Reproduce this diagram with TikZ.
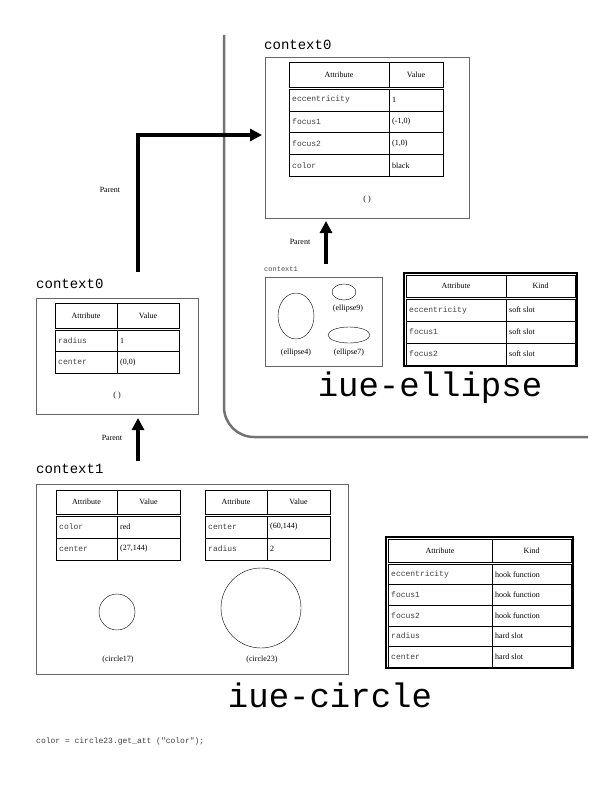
\documentclass[tikz,border=0pt]{standalone}
\usepackage{fontspec}
\setmainfont{Liberation Serif}
\setmonofont{Liberation Mono}
\usetikzlibrary{arrows.meta}
\newcommand\mytable[9]{%
  \draw[thin] (#1,#4) rectangle (#3,#5);
  \draw[thin] (#2,#4) -- (#2,#5);
  \node[tt] at ({(#1+#2)/2},{(#4+#5)/2}) {#7};
  \node[tt] at ({(#2+#3)/2},{(#4+#5)/2}) {#8};
  \draw[thin] (#1,#5+2) -- (#3,#5+2);
  \foreach \a/\b [count=\i] in {#9}{
    \pgfmathsetmacro\ytop{#5+2+(\i-1)*#6}
    \pgfmathsetmacro\ybot{#5+2+\i*#6}
    \draw[thin] (#1,\ytop) rectangle (#3,\ybot);
    \draw[thin] (#2,\ytop) -- (#2,\ybot);
    \node[tm,anchor=west] at (#1+2,{(\ytop+\ybot)/2}) {\a};
    \node[tt,anchor=west] at (#2+2,{(\ytop+\ybot)/2}) {\b};
  }}
\begin{document}
\begin{tikzpicture}[x=1pt,y=-1pt,
  tt/.style={font=\fontsize{8}{9}\selectfont,inner sep=1pt},
  tm/.style={font=\ttfamily\fontsize{8}{9}\selectfont,text=black!75,inner sep=1pt},
  lab/.style={font=\ttfamily\fontsize{14}{15}\selectfont,anchor=west,inner sep=0pt},
  big/.style={font=\ttfamily\fontsize{34}{36}\selectfont,inner sep=0pt},
  box/.style={draw=black!60,thick},
  bigarrow/.style={line width=3.5pt,-{Triangle[length=12pt,width=12pt]}}]
\useasboundingbox (0,0) rectangle (612,792);
% boundary
\draw[black!55,line width=2.5pt,rounded corners=30pt] (224,35) -- (224,437) -- (588,437);
% top context0
\node[lab] (c0t) at (264,45) {context0};
\draw[box] (265,57) rectangle (469,218);
\mytable{289}{389}{443}{62}{87}{21.8}{Attribute}{Value}{eccentricity/1,focus1/(-1{,}0),focus2/(1{,}0),color/black}
\node[tt] (pt) at (367,200) {( )};
\coordinate (tin) at (262,135);
% ellipse context1
\node[font=\ttfamily\fontsize{7}{8}\selectfont,text=black!70,anchor=west,inner sep=0pt] (c1e) at (264,269) {context1};
\draw[box] (265,277) rectangle (382,366);
\draw (296,316) ellipse (18 and 23);
\draw (344,292) ellipse (12 and 8);
\draw (349,335) ellipse (21 and 8);
\node[tt] (e4) at (296,353) {(ellipse4)};
\node[tt] (e9) at (348,309) {(ellipse9)};
\node[tt] (e7) at (349,353) {(ellipse7)};
\draw[line width=2.5pt] (404,273) rectangle (577,366);
\mytable{406}{506}{575}{275}{297}{22}{Attribute}{Kind}{eccentricity/soft slot,focus1/soft slot,focus2/soft slot}
\node[big] (ie) at (430,388) {iue-ellipse};
\coordinate (a2s) at (326,264); \coordinate (a2e) at (326,221);
\draw[bigarrow] (a2s) -- (a2e);
\node[tt] at (300,242) {Parent};
% left context0
\node[lab] (c0l) at (36,284) {context0};
\draw[box] (36,298) rectangle (198,414);
\mytable{55}{117}{179}{303}{328}{21.5}{Attribute}{Value}{radius/1,center/(0{,}0)}
\node[tt] at (117,396) {( )};
\coordinate (a1s) at (138,272);
\draw[bigarrow] (a1s) -- (138,135) -- (tin);
\node[tt] at (110,190) {Parent};
\coordinate (a3s) at (138,461); \coordinate (a3e) at (138,418);
\draw[bigarrow] (a3s) -- (a3e);
\node[tt] at (112,438) {Parent};
% context1 circle
\node[lab] (c1l) at (36,469) {context1};
\draw[box] (36,484) rectangle (348,674);
\mytable{56}{117}{180}{490}{514}{22}{Attribute}{Value}{color/red,center/(27{,}144)}
\mytable{205}{267}{330}{490}{514}{22}{Attribute}{Value}{center/(60{,}144),radius/2}
\draw (117,612) circle (18);
\draw (261,608) circle (40);
\node[tt] at (118,660) {(circle17)};
\node[tt] at (262,660) {(circle23)};
\draw[line width=2.5pt] (386,537) rectangle (573,668);
\mytable{388}{492}{571}{539}{562}{20.6}{Attribute}{Kind}{eccentricity/hook function,focus1/hook function,focus2/hook function,radius/hard slot,center/hard slot}
\node[big] (ic) at (330,695) {iue-circle};
\node[font=\ttfamily\fontsize{8}{9}\selectfont,text=black!75,anchor=west,inner sep=0pt] at (36,741) {color = circle23.get\_att ("color");};
\end{tikzpicture}
\end{document}
